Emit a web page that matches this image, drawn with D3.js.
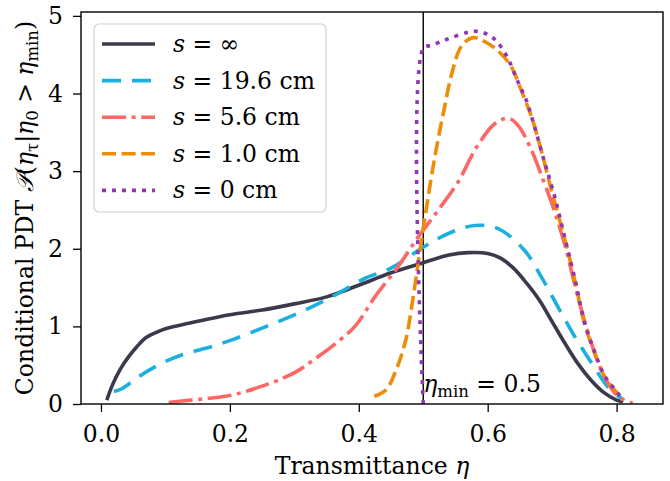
<!DOCTYPE html>
<html><head><meta charset="utf-8">
<script src="https://cdn.jsdelivr.net/npm/d3@7"></script>
<style>body{margin:0;background:#fff}svg{display:block}</style>
</head><body>
<svg id="c" width="670" height="481"></svg>
<script>
// ---- data ----
const xTicks = [0.0, 0.2, 0.4, 0.6, 0.8];
const yTicks = [0, 1, 2, 3, 4, 5];
const seriesLabels = ["∞", "19.6 cm", "5.6 cm", "1.0 cm", "0 cm"];

const xInf = [0.009,0.018,0.03,0.043,0.056,0.069,0.085,0.1,0.136,0.2,0.25,0.3,0.35,0.4,0.45,0.5,0.54,0.57,0.6,0.62,0.64,0.66,0.68,0.70,0.72,0.74,0.76,0.78,0.80,0.81];
const yInf = [0.05,0.25,0.45,0.61,0.74,0.85,0.92,0.97,1.04,1.15,1.21,1.29,1.38,1.53,1.69,1.82,1.92,1.95,1.94,1.88,1.75,1.56,1.34,1.06,0.78,0.52,0.31,0.15,0.05,0.03];

const x196 = [0.02,0.033,0.059,0.095,0.126,0.172,0.203,0.25,0.306,0.358,0.41,0.45,0.5,0.54,0.58,0.616,0.657,0.683,0.709,0.735,0.761,0.786,0.81];
const y196 = [0.16,0.2,0.355,0.527,0.634,0.74,0.826,0.977,1.17,1.38,1.62,1.75,2.02,2.2,2.30,2.26,1.98,1.64,1.25,0.87,0.53,0.226,0.055];

const x56 = [0.105,0.14,0.172,0.2,0.224,0.25,0.276,0.306,0.33,0.358,0.394,0.425,0.461,0.492,0.528,0.554,0.583,0.611,0.632,0.647,0.668,0.688,0.699,0.719,0.74,0.761,0.781,0.802,0.825];
const y56 = [0.02,0.05,0.077,0.11,0.16,0.23,0.31,0.43,0.57,0.74,1.0,1.38,1.77,2.15,2.55,2.86,3.31,3.61,3.68,3.59,3.27,2.84,2.6,2.07,1.38,0.78,0.355,0.1,0.01];

const x10 = [0.424,0.442,0.458,0.473,0.483,0.491,0.498,0.506,0.517,0.532,0.545,0.56,0.577,0.595,0.616,0.637,0.652,0.668,0.683,0.699,0.72,0.735,0.75,0.766,0.781,0.797,0.81];
const y10 = [0.1,0.18,0.44,0.83,1.3,1.75,2.15,2.58,3.14,3.78,4.28,4.62,4.72,4.67,4.55,4.34,4.04,3.70,3.27,2.75,2.11,1.60,1.04,0.655,0.355,0.18,0.055];

const x0 = [0.5,0.5,0.513,0.528,0.544,0.57,0.585,0.60,0.613,0.629,0.647,0.66,0.67,0.686,0.704,0.72,0.735,0.75,0.766,0.781,0.797,0.81];
const y0 = [0,4.58,4.62,4.67,4.72,4.79,4.80,4.76,4.68,4.49,4.15,3.91,3.65,3.18,2.67,2.13,1.62,1.06,0.67,0.37,0.19,0.06];

const etaMin = 0.5;

// ---- styles ----
const colors = ["#3a3a4c", "#1cb0e0", "#ff6666", "#ee8c08", "#9236b8"];
const dashes = [null, "19,11", "24,5.6,4,5.6", "14,5.6", "4,6"];
const LW = 3.6;
const FS = 23.5, FSS = 16.5;

const svg = d3.select("#c");
const L = 81, R = 663, T = 12, B = 404;
const x = d3.scaleLinear().domain([-0.031, 0.872]).range([L, R]);
const y = d3.scaleLinear().domain([0, 5.05]).range([B, T]);

const serif = "'DejaVu Serif', serif";

svg.append("defs").append("clipPath").attr("id","clip")
  .append("rect").attr("x",L).attr("y",T).attr("width",R-L).attr("height",B-T);

// vertical eta_min line
svg.append("line").attr("x1",x(etaMin)).attr("x2",x(etaMin)).attr("y1",B).attr("y2",T)
  .attr("stroke","#000").attr("stroke-width",1.4);

const data = [[xInf,yInf],[x196,y196],[x56,y56],[x10,y10],[x0,y0]];
const line = d3.line().x(d=>x(d[0])).y(d=>y(d[1])).curve(d3.curveCatmullRom.alpha(0.5));
const g = svg.append("g").attr("clip-path","url(#clip)");
data.forEach((s,i)=>{
  const pts = s[0].map((v,j)=>[v, s[1][j]]);
  g.append("path").attr("d", line(pts)).attr("fill","none")
    .attr("stroke", colors[i]).attr("stroke-width", LW)
    .attr("stroke-dasharray", dashes[i]).attr("stroke-linejoin","round");
});

// axes
const xAxis = d3.axisBottom(x).tickValues(xTicks).tickFormat(d3.format(".1f")).tickSize(8).tickPadding(13);
const yAxis = d3.axisLeft(y).tickValues(yTicks).tickFormat(d3.format("d")).tickSize(8).tickPadding(10);
const gx = svg.append("g").attr("transform",`translate(0,${B})`).call(xAxis);
const gy = svg.append("g").attr("transform",`translate(${L},0)`).call(yAxis);
[gx,gy].forEach(a=>{
  a.select(".domain").remove();
  a.selectAll(".tick line").attr("stroke","#000").attr("stroke-width",1.3);
  a.selectAll(".tick text").attr("font-family",serif).attr("font-size",FS).attr("fill","#000");
});
// frame
svg.append("rect").attr("x",L).attr("y",T).attr("width",R-L).attr("height",B-T)
  .attr("fill","none").attr("stroke","#000").attr("stroke-width",1.4);

// annotation
const ann = svg.append("text").attr("x", x(etaMin)).attr("y", 392)
  .attr("font-family",serif).attr("font-size",FS).attr("fill","#000");
ann.append("tspan").attr("font-style","italic").text("η");
ann.append("tspan").attr("font-size",FSS).attr("dy",5).text("min");
ann.append("tspan").attr("dy",-5).text(" = 0.5");

// axis labels
const xl = svg.append("text").attr("x",(L+R)/2).attr("y",474).attr("text-anchor","middle")
  .attr("font-family",serif).attr("font-size",FS).attr("fill","#000");
xl.append("tspan").text("Transmittance ");
xl.append("tspan").attr("font-style","italic").text("η");

const yl = svg.append("text").attr("transform",`translate(33,${(T+B)/2}) rotate(-90)`)
  .attr("text-anchor","middle").attr("font-family",serif).attr("font-size",FS).attr("fill","#000");
yl.append("tspan").text("Conditional PDT ");
yl.append("tspan").attr("font-style","italic").text("𝒫");
yl.append("tspan").text("(");
yl.append("tspan").attr("font-style","italic").text("η");
yl.append("tspan").attr("font-size",FSS).attr("dy",5).text("τ");
yl.append("tspan").attr("dy",-5).text("|");
yl.append("tspan").attr("font-style","italic").text("η");
yl.append("tspan").attr("font-size",FSS).attr("dy",5).text("0");
yl.append("tspan").attr("dy",-5).text(" > ");
yl.append("tspan").attr("font-style","italic").text("η");
yl.append("tspan").attr("font-size",FSS).attr("dy",5).text("min");
yl.append("tspan").attr("dy",-5).text(")");

// legend
const lg = svg.append("g");
lg.append("rect").attr("x",94).attr("y",24).attr("width",232).attr("height",188).attr("rx",5)
  .attr("fill","#fff").attr("fill-opacity",0.8).attr("stroke","#d0d0d0").attr("stroke-width",1.2);
seriesLabels.forEach((lab,i)=>{
  const cy = 44 + i*36.6;
  lg.append("line").attr("x1",102).attr("x2",155).attr("y1",cy).attr("y2",cy)
    .attr("stroke",colors[i]).attr("stroke-width",LW).attr("stroke-dasharray",dashes[i]);
  const t = lg.append("text").attr("x",173).attr("y",cy+8)
    .attr("font-family",serif).attr("font-size",FS).attr("fill","#000");
  t.append("tspan").attr("font-style","italic").text("s");
  t.append("tspan").text(" = " + lab);
});
</script>
</body></html>
